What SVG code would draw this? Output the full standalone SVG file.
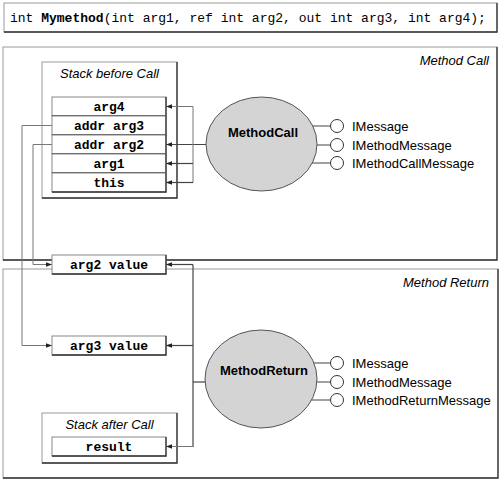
<svg xmlns="http://www.w3.org/2000/svg" width="500" height="483" viewBox="0 0 500 483">
<defs>
<style>
.frame{fill:#fff;stroke:#999;stroke-width:1}
.shadow{fill:none;stroke:#333;stroke-width:1.3}
.box{fill:#fff;stroke:#888;stroke-width:1}
.code{font-family:"Liberation Mono","Courier New",monospace;font-size:13px;fill:#000}
.codeb{font-family:"Liberation Mono","Courier New",monospace;font-size:13px;font-weight:bold;fill:#000;text-anchor:middle}
.ital{font-family:"Liberation Sans",Arial,sans-serif;font-size:13px;font-style:italic;fill:#000}
.lbl{font-family:"Liberation Sans",Arial,sans-serif;font-size:13px;fill:#000}
.ell{fill:#d4d4d4;stroke:#555;stroke-width:1}
.elbl{font-family:"Liberation Sans",Arial,sans-serif;font-size:13px;font-weight:bold;fill:#000;text-anchor:middle}
.lolly{fill:#fff;stroke:#333;stroke-width:1}
.wire{fill:none;stroke:#444;stroke-width:1.2}
.wire2{fill:none;stroke:#777;stroke-width:1}
</style>
<marker id="ah" viewBox="0 0 6 6" refX="6" refY="3" markerWidth="6" markerHeight="6" markerUnits="userSpaceOnUse" orient="auto">
<path d="M0,0.8 L6,3 L0,5.2 Z" fill="#222"/>
</marker>
</defs>

<g id="signature">
<rect class="frame" x="4" y="3" width="493" height="29"/>
<path class="shadow" d="M497,3 V32 H4"/>
<text class="code" x="10" y="22">int <tspan font-weight="bold">Mymethod</tspan>(int arg1, ref int arg2, out int arg3, int arg4);</text>
</g>

<g id="method-call-frame">
<rect class="frame" x="3" y="47" width="494" height="213"/>
<path class="shadow" d="M497,47 V260 H3"/>
<text class="ital" x="489" y="65" text-anchor="end">Method Call</text>
</g>

<g id="method-return-frame">
<rect class="frame" x="3" y="269" width="495" height="209"/>
<path class="shadow" d="M498,269 V478 H3"/>
<text class="ital" x="489" y="287" text-anchor="end">Method Return</text>
</g>

<g id="stack-before-call">
<rect class="frame" x="42" y="62" width="135" height="136"/>
<path class="shadow" d="M177,62 V198 H42"/>
<text class="ital" x="109.5" y="78" text-anchor="middle">Stack before Call</text>
</g>

<g id="stack-after-call">
<rect class="frame" x="42" y="413" width="135" height="50"/>
<path class="shadow" d="M177,413 V463 H42"/>
<text class="ital" x="109.5" y="429" text-anchor="middle">Stack after Call</text>
</g>

<g id="connectors">
<!-- call side -->
<path class="wire" d="M210,144.5 H166" marker-end="url(#ah)"/>
<path class="wire2" d="M193,106.5 V182.5"/>
<path class="wire2" d="M193,106.5 H166" marker-end="url(#ah)"/>
<path class="wire" d="M193,163.5 H166" marker-end="url(#ah)"/>
<path class="wire" d="M193,182.5 H166" marker-end="url(#ah)"/>
<path class="wire2" d="M52,125.5 H22 V345.5 H52" marker-end="url(#ah)"/>
<path class="wire2" d="M52,144.5 H33 V264.5 H52" marker-end="url(#ah)"/>
<!-- return side -->
<path class="wire" d="M208,382 H193"/>
<path class="wire" d="M193,264.5 V447"/>
<path class="wire" d="M193,264.5 H166" marker-end="url(#ah)"/>
<path class="wire" d="M193,345.5 H166" marker-end="url(#ah)"/>
<path class="wire2" d="M193,446.5 H166" marker-end="url(#ah)"/>
<!-- lollipops -->
<path class="wire" d="M300,126 H330.5 M305,145 H330.5 M300,163 H330.5"/>
<path class="wire" d="M300,363 H330.5 M305,382 H330.5 M300,400 H330.5"/>
</g>

<g id="row-arg4"><rect class="box" x="52" y="97" width="114" height="19"/><path class="shadow" d="M166,97 V116 H52"/><text class="codeb" x="109" y="111">arg4</text></g>
<g id="row-addr-arg3"><rect class="box" x="52" y="116" width="114" height="19"/><path class="shadow" d="M166,116 V135 H52"/><text class="codeb" x="109" y="130">addr arg3</text></g>
<g id="row-addr-arg2"><rect class="box" x="52" y="135" width="114" height="19"/><path class="shadow" d="M166,135 V154 H52"/><text class="codeb" x="109" y="149">addr arg2</text></g>
<g id="row-arg1"><rect class="box" x="52" y="154" width="114" height="19"/><path class="shadow" d="M166,154 V173 H52"/><text class="codeb" x="109" y="168">arg1</text></g>
<g id="row-this"><rect class="box" x="52" y="173" width="114" height="19"/><path class="shadow" d="M166,173 V192 H52"/><text class="codeb" x="109" y="187">this</text></g>

<g id="arg2-value"><rect class="box" x="52" y="255" width="114" height="19"/><path class="shadow" d="M166,255 V274 H52"/><text class="codeb" x="109" y="269">arg2 value</text></g>
<g id="arg3-value"><rect class="box" x="52" y="336" width="114" height="19"/><path class="shadow" d="M166,336 V355 H52"/><text class="codeb" x="109" y="350">arg3 value</text></g>
<g id="row-result"><rect class="box" x="52" y="437" width="114" height="19"/><path class="shadow" d="M166,437 V456 H52"/><text class="codeb" x="109" y="451">result</text></g>

<g id="MethodCall">
<ellipse class="ell" cx="261.5" cy="144" rx="55.5" ry="47"/>
<text class="elbl" x="263" y="137">MethodCall</text>
</g>
<g id="MethodCall-interfaces">
<circle class="lolly" cx="337" cy="126" r="6.5"/><text class="lbl" x="352" y="130.5">IMessage</text>
<circle class="lolly" cx="337" cy="145" r="6.5"/><text class="lbl" x="352" y="149.5">IMethodMessage</text>
<circle class="lolly" cx="337" cy="163" r="6.5"/><text class="lbl" x="352" y="167.5">IMethodCallMessage</text>
</g>

<g id="MethodReturn">
<ellipse class="ell" cx="261" cy="379" rx="56" ry="49"/>
<text class="elbl" x="264" y="375">MethodReturn</text>
</g>
<g id="MethodReturn-interfaces">
<circle class="lolly" cx="337" cy="363" r="6.5"/><text class="lbl" x="352" y="367.5">IMessage</text>
<circle class="lolly" cx="337" cy="382" r="6.5"/><text class="lbl" x="352" y="386.5">IMethodMessage</text>
<circle class="lolly" cx="337" cy="400" r="6.5"/><text class="lbl" x="352" y="404.5">IMethodReturnMessage</text>
</g>
</svg>
